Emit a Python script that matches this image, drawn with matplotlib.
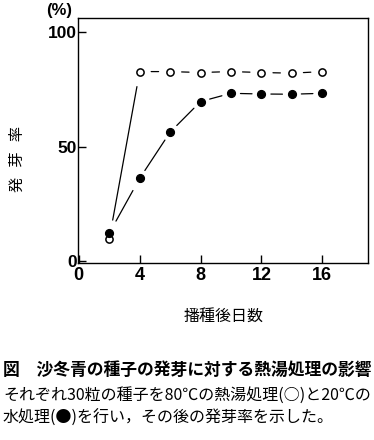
import matplotlib
matplotlib.use("Agg")
import matplotlib.pyplot as plt

# data
days = [2, 4, 6, 8, 10, 12, 14, 16]
hot_water = [9.5, 82.8, 82.8, 82.4, 82.8, 82.4, 82.1, 82.8]   # 80°C (open)
cold_water = [12.1, 36.1, 56.3, 69.7, 73.3, 73.0, 72.9, 73.3]  # 20°C (filled)

x_ticks = [0, 4, 8, 12, 16]
y_ticks = [0, 50, 100]

x_label = "播種後日数"
y_label = "発   芽   率"
caption_title = "図　沙冬青の種子の発芽に対する熱湯処理の影響"
caption_lines = [
    "それぞれ30粒の種子を80℃の熱湯処理(○)と20℃の",
    "水処理(●)を行い，その後の発芽率を示した。",
]

JP = ["Noto Sans CJK JP", "DejaVu Sans"]
NUM = ["Liberation Sans", "DejaVu Sans"]


def gapped_segments(ax, xs, ys, shrink, first_shrink=None):
    """Draw each segment between markers, leaving a gap around every point."""
    for i in range(len(xs) - 1):
        sa, sb = (first_shrink if (i == 0 and first_shrink) else (shrink, shrink))
        ax.annotate(
            "",
            xy=(xs[i + 1], ys[i + 1]),
            xytext=(xs[i], ys[i]),
            arrowprops=dict(arrowstyle="-", color="black", lw=0.9,
                            shrinkA=sa, shrinkB=sb),
        )


fig = plt.figure(figsize=(3.74, 4.40), dpi=100)
ax = fig.add_axes([0.2086, 0.4023, 0.7754, 0.5561])

gapped_segments(ax, days, hot_water, 8.3, first_shrink=(14, 11))
gapped_segments(ax, days, cold_water, 6.8, first_shrink=(10, 10))

ax.plot(days, hot_water, linestyle="none", marker="o", markersize=5.2,
        markerfacecolor="white", markeredgecolor="black", markeredgewidth=1.1,
        zorder=3)
ax.plot(days, cold_water, linestyle="none", marker="o", markersize=5.6,
        markerfacecolor="black", markeredgecolor="black", zorder=4)

ax.set_xlim(-0.05, 19.0)
ax.set_ylim(-0.9, 106.1)
ax.set_xticks(x_ticks)
ax.set_yticks(y_ticks)
ax.tick_params(direction="in", length=6, width=1, colors="black")
ax.tick_params(axis="x", pad=3)
ax.tick_params(axis="y", pad=1)
for lab in ax.get_xticklabels():
    lab.set_family(NUM)
    lab.set_fontsize(13)
    lab.set_fontweight("bold")
for lab in ax.get_yticklabels():
    lab.set_family(NUM)
    lab.set_fontsize(12.5)
    lab.set_fontweight("bold")
for sp in ax.spines.values():
    sp.set_linewidth(1.0)

fig.text(59 / 374, 1 - 11 / 440, "(%)", family=NUM, fontsize=12,
         fontweight="bold", ha="center", va="center")
fig.text(17.5 / 374, 1 - 158.5 / 440, y_label, family=JP, fontsize=11,
         rotation=90, ha="center", va="center")
fig.text(224 / 374, 1 - 316 / 440, x_label, family=JP, fontsize=11.5,
         ha="center", va="center")

fig.text(3 / 374, 1 - 370 / 440, caption_title, family=JP, fontsize=12.1,
         fontweight="bold", ha="left", va="center")
fig.text(3 / 374, 1 - 395 / 440, caption_lines[0], family=JP, fontsize=11.5,
         ha="left", va="center")
fig.text(3 / 374, 1 - 418 / 440, caption_lines[1], family=JP, fontsize=11.5,
         ha="left", va="center")

fig.savefig("out.png", dpi=100)
